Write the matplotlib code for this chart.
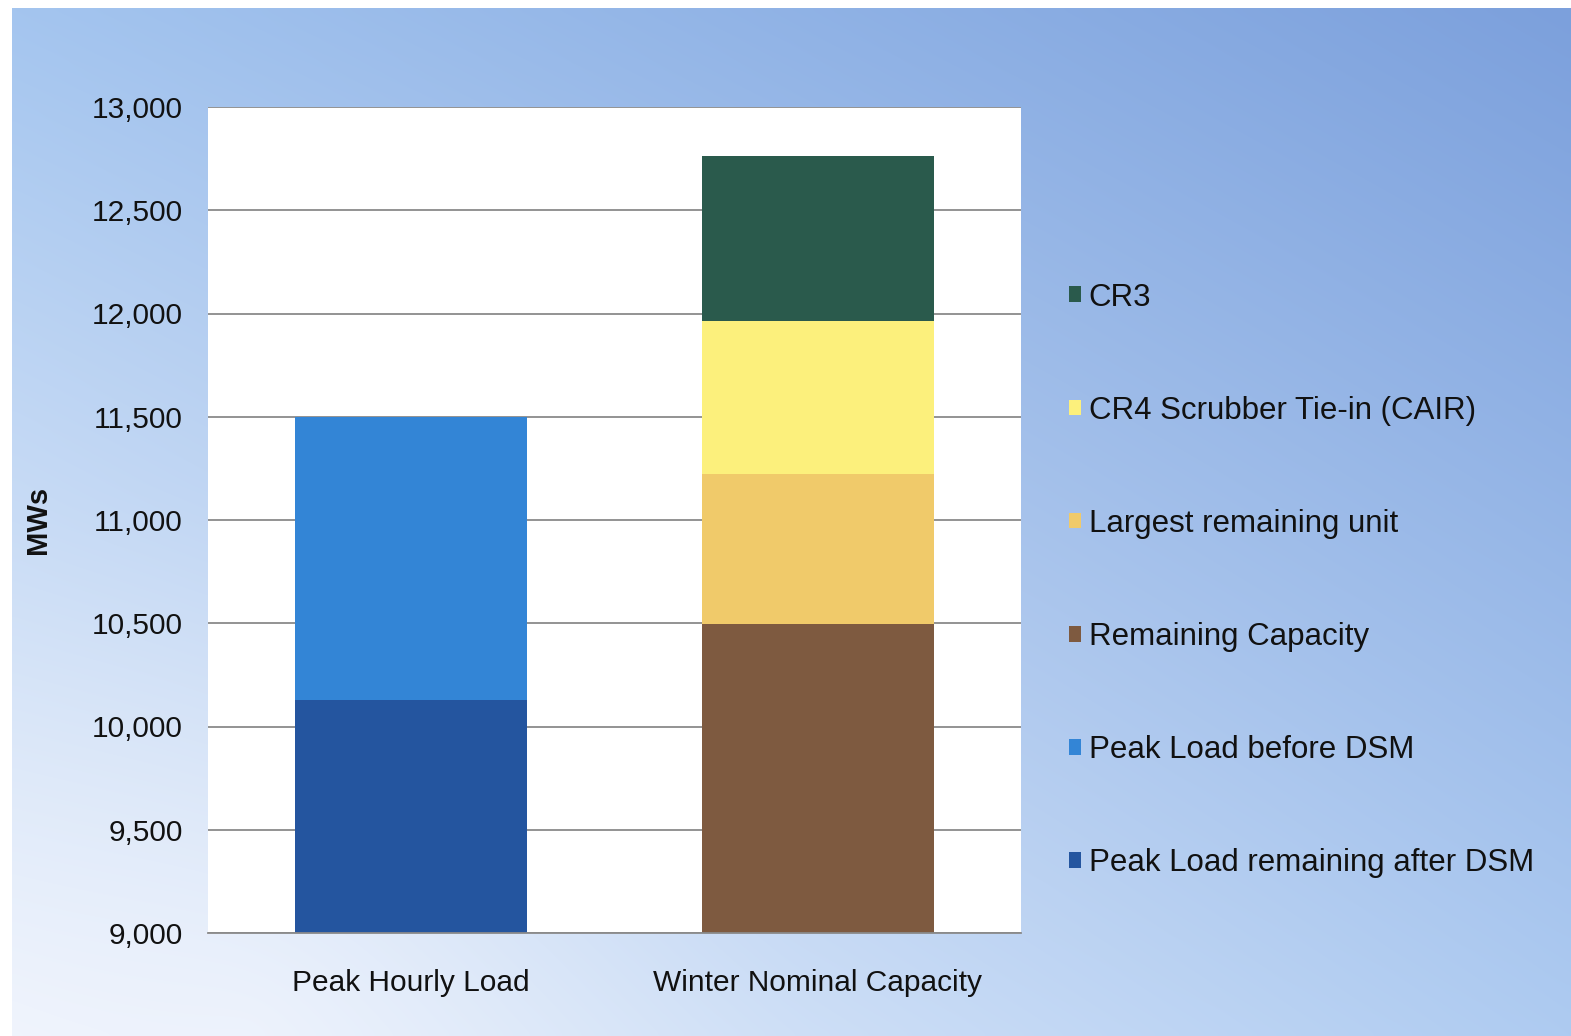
import numpy as np
import matplotlib
matplotlib.use("Agg")
import matplotlib.pyplot as plt
from matplotlib.colors import to_rgb
from matplotlib.patches import Patch

plt.rcParams['font.family'] = ['Liberation Sans', 'DejaVu Sans']

# ---- data ----
categories = ["Peak Hourly Load", "Winter Nominal Capacity"]
series_names = ["Peak Load remaining after DSM", "Peak Load before DSM",
                "Remaining Capacity", "Largest remaining unit",
                "CR4 Scrubber Tie-in (CAIR)", "CR3"]
after_dsm = [10130, 0]
before_dsm = [1370, 0]
remaining_capacity = [0, 10495]
largest_unit = [0, 730]
cr4_scrubber = [0, 740]
cr3 = [0, 800]
series_values = [after_dsm, before_dsm, remaining_capacity, largest_unit, cr4_scrubber, cr3]
series_colors = ["#24559f", "#3385d6", "#7e5a40", "#f0ca6a", "#fcf07c", "#2a5a4c"]
yticks = [9000, 9500, 10000, 10500, 11000, 11500, 12000, 12500, 13000]

W, H = 1571, 1036
fig = plt.figure(figsize=(W / 100, H / 100), dpi=100)
fig.patch.set_facecolor("white")

# ---- background gradient ----
bg = fig.add_axes([12 / W, 0, 1 - 12 / W, (H - 8) / H], zorder=-10)
bg.set_axis_off()
ny, nx = 200, 300
yy, xx = np.mgrid[0:1:ny * 1j, 0:1:nx * 1j]  # yy: 0 top -> 1 bottom
TL = np.array(to_rgb("#a4c5ef"))
TR = np.array(to_rgb("#7ca0dc"))
BL = np.array(to_rgb("#eef3fc"))
BR = np.array(to_rgb("#aecbf1"))
img = ((1 - xx)[..., None] * (1 - yy)[..., None] * TL + xx[..., None] * (1 - yy)[..., None] * TR
       + (1 - xx)[..., None] * yy[..., None] * BL + xx[..., None] * yy[..., None] * BR)
d = np.sqrt(((xx - 0.15) * 1.5) ** 2 + ((yy - 1.0)) ** 2)
glow = np.clip(1 - d / 0.55, 0, 1)[..., None] ** 1.5
img = img * (1 - 0.5 * glow) + 0.5 * glow * np.array(to_rgb("#f6f8fe"))
bg.imshow(img, aspect="auto", extent=[0, 1, 0, 1], interpolation="bicubic")

# ---- main axes ----
ax = fig.add_axes([208 / W, (H - 933) / H, (1021 - 208) / W, (933 - 107) / H])
ax.set_facecolor("white")
x = np.arange(len(categories))
bottom = np.zeros(len(categories))
handles = []
for name, vals, col in zip(series_names, series_values, series_colors):
    vals = np.array(vals, dtype=float)
    ax.bar(x, vals, bottom=bottom, width=0.57, color=col, zorder=3, linewidth=0)
    bottom += vals
    handles.append(Patch(facecolor=col, label=name))

ax.set_ylim(9000, 13000)
ax.set_xlim(-0.5, 1.5)
ax.set_yticks(yticks)
ax.set_yticklabels([f"{v:,}" for v in yticks])
ax.set_xticks(x)
ax.set_xticklabels(categories)
ax.tick_params(axis="y", length=0, pad=18, labelsize=21.5, colors="#111111")
ax.tick_params(axis="x", length=0, pad=26, labelsize=21.5, colors="#111111")
ax.yaxis.grid(True, color="#8a8a8a", linewidth=1.3, zorder=1)
ax.set_axisbelow(True)
for s in ["left", "right", "top"]:
    ax.spines[s].set_visible(False)
ax.spines["bottom"].set_color("#8a8a8a")
ax.spines["bottom"].set_linewidth(1.3)
ax.spines["bottom"].set_zorder(4)

ax.set_ylabel("MWs", fontsize=21, fontweight="bold", color="#111111")
ax.yaxis.set_label_coords(-0.192, 0.5)

leg = fig.legend(handles=handles[::-1], loc="upper left",
                 bbox_to_anchor=(1056 / W, 1 - 270 / H), frameon=False,
                 fontsize=22.5, handlelength=0.4, handleheight=0.4,
                 handletextpad=0.25, labelspacing=2.66, borderaxespad=0)
for t in leg.get_texts():
    t.set_color("#111111")

fig.savefig("out.png", dpi=100, facecolor=fig.get_facecolor())
